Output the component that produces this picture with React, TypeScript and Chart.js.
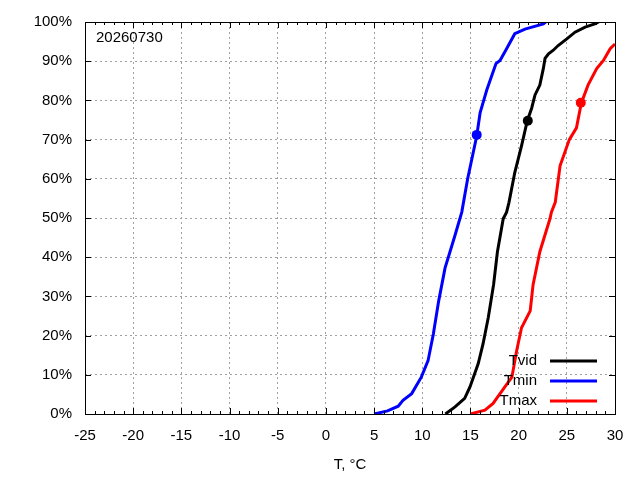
import React, { useEffect, useRef } from "react";
import { Chart, registerables } from "chart.js";

Chart.register(...registerables);

const chartTitle = "20260730";
const xAxisTitle = "T, °C";
const xTicks = [-25, -20, -15, -10, -5, 0, 5, 10, 15, 20, 25, 30];
const yTicks = [0, 10, 20, 30, 40, 50, 60, 70, 80, 90, 100];

const seriesLabels = ["Tvid", "Tmin", "Tmax"];
const seriesColors = ["#000000", "#0000ff", "#ff0000"];

const tvidX = [12.4, 13.4, 14.4, 14.95, 15.8, 16.3, 16.85, 17.4, 17.8, 18.4, 18.75, 19.0, 19.6, 20.3, 20.9, 21.35, 21.7, 22.2, 22.56, 22.74, 23.1, 23.6, 24.1, 25.0, 25.85, 26.9, 27.9, 28.3];
const tvidY = [0, 1.8, 4, 6.9, 12.8, 17.8, 24.6, 33, 41.4, 49.8, 51.5, 54, 61.6, 68.4, 74.8, 78, 81.4, 83.9, 88.1, 90.7, 91.9, 92.8, 94, 95.7, 97.4, 98.7, 99.5, 100];

const tminX = [5.0, 6.4, 7.5, 8.0, 8.9, 9.9, 10.6, 11.15, 11.7, 12.36, 13.4, 14.1, 14.7, 15.65, 16.0, 16.7, 17.65, 18.07, 18.75, 19.6, 20.66, 22.56, 22.8];
const tminY = [0, 0.8, 2, 3.5, 5.2, 9.4, 13.6, 20.4, 28.8, 37.2, 45.6, 51.5, 59.9, 70.9, 76.8, 82.7, 89.4, 90.2, 93.2, 97, 98.2, 99.5, 100];

const tmaxX = [15.0, 16.5, 17.35, 18.07, 19.3, 19.8, 20.3, 21.2, 21.5, 22.2, 23.25, 23.4, 23.8, 24.3, 25.26, 26.0, 26.5, 27.2, 28.1, 28.8, 29.5, 30.0];
const tmaxY = [0, 1, 2.7, 5.2, 9.4, 16.2, 22, 26.3, 33, 41.4, 49.8, 51.5, 54, 63.3, 70, 73, 79.3, 83.9, 88.1, 90.2, 93.2, 94.4];

const markerX = [20.95, 15.65, 26.45];
const markerY = [74.8, 71.2, 79.4];

const FONT = "'Liberation Sans', Arial, sans-serif";
const FS = 15;

const toPts = (xs: number[], ys: number[]) => xs.map((x, i) => ({ x, y: ys[i] }));

const framePlugin = {
  id: "frame",
  afterDatasetsDraw(chart: any) {
    const { ctx, chartArea: a, scales } = chart;
    const xs = scales.x;
    const ys = scales.y;
    ctx.save();
    ctx.strokeStyle = "#000";
    ctx.lineWidth = 1;
    ctx.beginPath();
    for (let v = -25; v <= 30; v++) {
      const px = Math.round(xs.getPixelForValue(v)) + 0.5;
      const len = v % 5 === 0 ? 6 : 3;
      ctx.moveTo(px, a.bottom);
      ctx.lineTo(px, a.bottom - len);
      ctx.moveTo(px, a.top);
      ctx.lineTo(px, a.top + len);
    }
    for (const v of yTicks) {
      const py = Math.round(ys.getPixelForValue(v)) + 0.5;
      ctx.moveTo(a.left, py);
      ctx.lineTo(a.left + 6, py);
      ctx.moveTo(a.right, py);
      ctx.lineTo(a.right - 6, py);
    }
    ctx.stroke();
    ctx.strokeRect(Math.round(a.left) + 0.5, Math.round(a.top) + 0.5, Math.round(a.right - a.left), Math.round(a.bottom - a.top));

    ctx.fillStyle = "#000";
    ctx.font = `${FS}px ${FONT}`;
    ctx.textAlign = "left";
    ctx.textBaseline = "middle";
    ctx.fillText(chartTitle, a.left + 11, a.top + 16);

    ctx.textAlign = "center";
    ctx.fillText(xAxisTitle, (a.left + a.right) / 2, 465);

    const rows = [361, 381, 401];
    seriesLabels.forEach((lab, i) => {
      ctx.textAlign = "right";
      ctx.fillStyle = "#000";
      ctx.fillText(lab, 537, rows[i]);
      ctx.strokeStyle = seriesColors[i];
      ctx.lineWidth = 3;
      ctx.beginPath();
      ctx.moveTo(550, rows[i]);
      ctx.lineTo(597, rows[i]);
      ctx.stroke();
    });
    ctx.restore();
  },
};

export default function App() {
  const ref = useRef<HTMLCanvasElement | null>(null);
  useEffect(() => {
    if (!ref.current) return;
    const lineSets = [
      toPts(tvidX, tvidY),
      toPts(tminX, tminY),
      toPts(tmaxX, tmaxY),
    ].map((data, i) => ({
      label: seriesLabels[i],
      data,
      borderColor: seriesColors[i],
      backgroundColor: seriesColors[i],
      borderWidth: 3,
      pointRadius: 0,
      tension: 0,
      showLine: true,
    }));
    const markerSets = markerX.map((x, i) => ({
      label: seriesLabels[i] + " marker",
      data: [{ x, y: markerY[i] }],
      borderColor: seriesColors[i],
      backgroundColor: seriesColors[i],
      pointRadius: 5,
      pointBorderWidth: 0,
      showLine: false,
    }));
    const chart = new Chart(ref.current, {
      type: "scatter",
      data: { datasets: [...lineSets, ...markerSets] as any },
      plugins: [framePlugin],
      options: {
        animation: false,
        responsive: false,
        devicePixelRatio: 1,
        layout: { padding: { top: 18, right: 25, left: 0, bottom: 0 } },
        plugins: { legend: { display: false }, tooltip: { enabled: false }, title: { display: false } },
        scales: {
          x: {
            type: "linear",
            min: -25,
            max: 30,
            afterBuildTicks: (s: any) => {
              s.ticks = xTicks.map((v) => ({ value: v }));
            },
            afterFit: (s: any) => {
              s.height = 66;
            },
            ticks: {
              color: "#000",
              font: { family: FONT, size: FS },
              padding: 13,
              maxRotation: 0,
              autoSkip: false,
            },
            grid: { color: "#a0a0a0", lineWidth: 1, drawTicks: false },
            border: { display: false, dash: [2, 3] },
          },
          y: {
            type: "linear",
            min: 0,
            max: 100,
            afterBuildTicks: (s: any) => {
              s.ticks = yTicks.map((v) => ({ value: v }));
            },
            afterFit: (s: any) => {
              s.width = 85;
            },
            ticks: {
              color: "#000",
              font: { family: FONT, size: FS },
              padding: 13,
              callback: (v: any) => `${v}%`,
            },
            grid: { color: "#a0a0a0", lineWidth: 1, drawTicks: false },
            border: { display: false, dash: [2, 3] },
          },
        },
      } as any,
    });
    return () => chart.destroy();
  }, []);
  return (
    <div style={{ position: "absolute", left: 0, top: 0, width: 640, height: 480, background: "#fff" }}>
      <canvas ref={ref} width={640} height={480} style={{ width: 640, height: 480 }} />
    </div>
  );
}
